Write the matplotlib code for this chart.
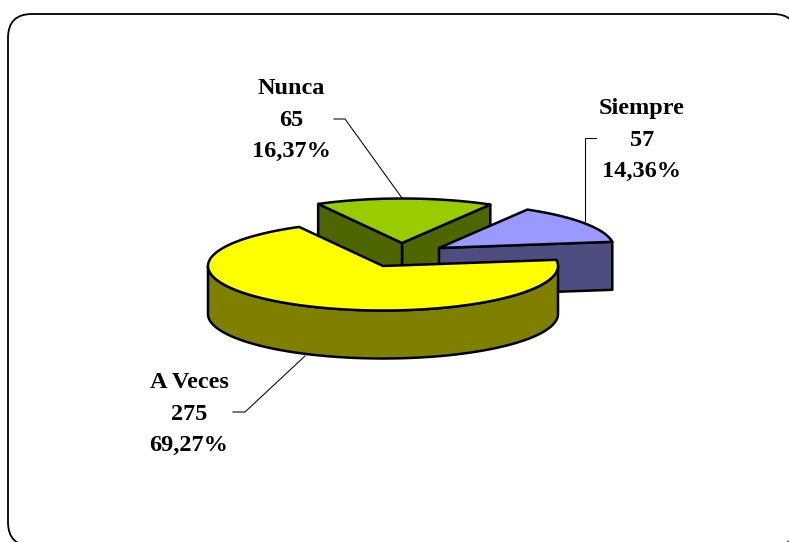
import numpy as np
import matplotlib
matplotlib.use("Agg")
import matplotlib.pyplot as plt
from matplotlib.patches import FancyBboxPatch, Polygon

# Data
categories = ["Siempre", "Nunca", "A Veces"]
values = [57, 65, 275]
percent_labels = ["14,36%", "16,37%", "69,27%"]

# Styles and layout (pixel coordinates of the reference)
top_colors = ["#9999FF", "#99CC00", "#FFFF00"]
side_colors = ["#4D4D80", "#4D6600", "#808000"]
apexes = [(439, 248), (402, 243), (383, 266)]
draw_order = [1, 0, 2]
label_pos = [(642, 140), (291, 120), (189, 414)]
leaders = [
    [(596, 138), (585, 138), (585, 221)],
    [(334, 119), (345, 119), (402, 198)],
    [(233, 412), (245, 412), (305, 356)],
]
start_angle = 8.0
rx, ry, depth = 175.0, 44.5, 48.0
LW = 1.8

fig = plt.figure(figsize=(7.89, 5.42), dpi=100)
ax = fig.add_axes([0, 0, 1, 1])
ax.set_xlim(0, 789)
ax.set_ylim(542, 0)
ax.axis("off")

ax.add_patch(FancyBboxPatch((32, 38), 741, 484, boxstyle="round,pad=24,rounding_size=24",
                            fc="white", ec="black", lw=1.3, zorder=0))

# Angular extent of every slice from the values
spans = 360.0 * np.array(values) / np.sum(values)
ends = start_angle + np.cumsum(spans)
starts = ends - spans


def pts(cx, cy, deg, dz=0.0):
    t = np.radians(deg)
    return np.column_stack([cx + rx * np.cos(t), cy - ry * np.sin(t) + dz])


z = 2
for i in draw_order:
    cx, cy = apexes[i]
    a, b = starts[i], ends[i]
    style = dict(ec="black", lw=LW, joinstyle="round")
    # cut faces that look towards the viewer
    for ang, visible in ((a, np.cos(np.radians(a)) > 0), (b, np.cos(np.radians(b)) < 0)):
        if visible:
            p = pts(cx, cy, np.array([ang]))[0]
            face = [(cx, cy), p, (p[0], p[1] + depth), (cx, cy + depth)]
            ax.add_patch(Polygon(face, closed=True, fc=side_colors[i], zorder=z, **style))
            z += 1
    # outer wall: only the front half of the rim
    lo = max(a, 180.0)
    hi = min(b, 360.0)
    if hi > lo:
        t = np.linspace(lo, hi, 200)
        wall = np.vstack([pts(cx, cy, t), pts(cx, cy, t[::-1], depth)])
        ax.add_patch(Polygon(wall, closed=True, fc=side_colors[i], zorder=z, **style))
        z += 1
    # top surface
    t = np.linspace(a, b, 300)
    top = np.vstack([[(cx, cy)], pts(cx, cy, t)])
    ax.add_patch(Polygon(top, closed=True, fc=top_colors[i], zorder=z, **style))
    z += 1

for line in leaders:
    xs, ys = zip(*line)
    ax.plot(xs, ys, color="black", lw=0.75, zorder=1, solid_joinstyle="miter")

for name, val, pct, (x, y) in zip(categories, values, percent_labels, label_pos):
    ax.text(x, y, f"{name}\n{val}\n{pct}", ha="center", va="center", ma="center",
            family="Liberation Serif", weight="bold", fontsize=17.5, linespacing=1.63,
            color="black", zorder=50)

fig.savefig("out.png", dpi=100, facecolor="white")
